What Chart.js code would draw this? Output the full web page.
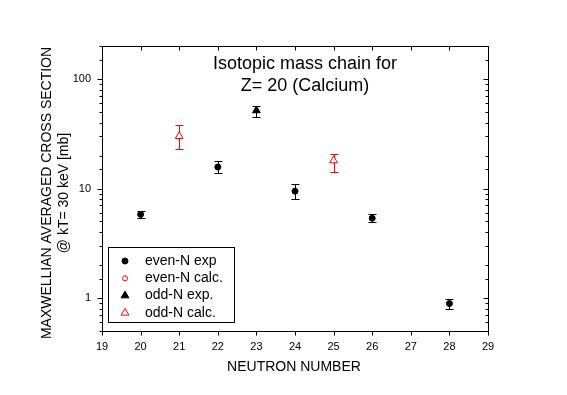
<!DOCTYPE html>
<html lang="en">
<head>
  <meta charset="UTF-8">
  <title>Isotopic mass chain for Z= 20 (Calcium)</title>
  <script src="https://cdn.jsdelivr.net/npm/chart.js"></script>
  <style>
    body { margin: 0; background: #fff; }
  </style>
</head>
<body>
  <canvas id="chart" width="567" height="395"></canvas>

  <script>
    // Data (N, value, lower and upper error bar ends, mb)
    const evenExpN = [20, 22, 24, 26, 28];
    const evenExpVal = [5.8, 15.7, 9.45, 5.35, 0.89];
    const evenExpLo = [5.4, 13.8, 8.1, 4.9, 0.79];
    const evenExpHi = [6.2, 17.7, 10.9, 5.85, 0.97];

    const evenCalcN = [];
    const evenCalcVal = [];

    const oddExpN = [23];
    const oddExpVal = [51.5];
    const oddExpLo = [45];
    const oddExpHi = [57];

    const oddCalcN = [21, 25];
    const oddCalcVal = [30, 18];
    const oddCalcLo = [23, 14];
    const oddCalcHi = [38, 20.6];

    const xTicks = [19, 20, 21, 22, 23, 24, 25, 26, 27, 28, 29];
    const yLabelled = [1, 10, 100];

    const titleLines = ['Isotopic mass chain for', 'Z= 20 (Calcium)'];
    const yTitleLines = ['MAXWELLIAN AVERAGED CROSS SECTION', '@ kT= 30 keV [mb]'];
    const xTitle = 'NEUTRON NUMBER';

    const FONT = 'Arial, "Liberation Sans", sans-serif';

    function pts(xs, ys) {
      return xs.map((x, i) => ({x: x, y: ys[i]}));
    }

    // error bars, drawn under the markers
    const errorBars = {
      id: 'errorBars',
      beforeDatasetsDraw(chart) {
        const ctx = chart.ctx;
        const xs = chart.scales.x, ys = chart.scales.y;
        chart.data.datasets.forEach(ds => {
          if (!ds.errLo) return;
          ctx.save();
          ctx.strokeStyle = ds.borderColor;
          ctx.lineWidth = 1;
          ds.data.forEach((p, i) => {
            const px = Math.round(xs.getPixelForValue(p.x)) + 0.5;
            const yLo = Math.round(ys.getPixelForValue(ds.errLo[i])) + 0.5;
            const yHi = Math.round(ys.getPixelForValue(ds.errHi[i])) + 0.5;
            ctx.beginPath();
            ctx.moveTo(px, yLo); ctx.lineTo(px, yHi);
            ctx.moveTo(px - 4, yLo); ctx.lineTo(px + 4, yLo);
            ctx.moveTo(px - 4, yHi); ctx.lineTo(px + 4, yHi);
            ctx.stroke();
          });
          ctx.restore();
        });
      }
    };

    // frame, tick marks, in-plot title, axis titles and legend box
    const decorations = {
      id: 'decorations',
      afterDraw(chart) {
        const ctx = chart.ctx;
        const a = chart.chartArea;
        const xs = chart.scales.x, ys = chart.scales.y;
        const L = Math.round(a.left) + 0.5, R = Math.round(a.right) + 0.5;
        const T = Math.round(a.top) + 0.5, B = Math.round(a.bottom) + 0.5;
        ctx.save();
        ctx.strokeStyle = '#000';
        ctx.lineWidth = 1;
        ctx.strokeRect(L, T, R - L, B - T);

        ctx.beginPath();
        xTicks.forEach(v => {
          const px = Math.round(xs.getPixelForValue(v)) + 0.5;
          ctx.moveTo(px, B); ctx.lineTo(px, B + 4);
          ctx.moveTo(px, T); ctx.lineTo(px, T + 4);
        });
        ys.ticks.forEach(t => {
          const major = yLabelled.includes(t.value);
          const len = major ? 5 : 3;
          const py = Math.round(ys.getPixelForValue(t.value)) + 0.5;
          ctx.moveTo(L, py); ctx.lineTo(L - len, py);
          ctx.moveTo(R, py); ctx.lineTo(R - len, py);
        });
        ctx.stroke();

        ctx.fillStyle = '#000';
        ctx.textAlign = 'center';
        ctx.textBaseline = 'middle';
        ctx.font = '18px ' + FONT;
        ctx.fillText(titleLines[0], 305, 64);
        ctx.fillText(titleLines[1], 305, 86);

        ctx.font = '14px ' + FONT;
        ctx.fillText(xTitle, 294, 367);
        ctx.save();
        ctx.translate(47, 193);
        ctx.rotate(-Math.PI / 2);
        ctx.fillText(yTitleLines[0], 0, 0);
        ctx.restore();
        ctx.save();
        ctx.translate(64, 193);
        ctx.rotate(-Math.PI / 2);
        ctx.fillText(yTitleLines[1], 0, 0);
        ctx.restore();

        // legend box and entries
        ctx.strokeRect(108.5, 247.5, 126, 75);
        ctx.textAlign = 'left';
        chart.data.datasets.forEach((ds, i) => {
          const cy = 261 + i * 17.3;
          ctx.save();
          ctx.fillStyle = ds.pointBackgroundColor;
          ctx.strokeStyle = ds.borderColor;
          ctx.lineWidth = 1;
          Chart.helpers.drawPoint(ctx, {
            pointStyle: ds.pointStyle,
            radius: ds.pointRadius,
            borderWidth: 1
          }, 125, cy);
          ctx.restore();
          ctx.fillStyle = '#000';
          ctx.fillText(ds.label, 145, cy);
        });
        ctx.restore();
      }
    };

    new Chart(document.getElementById('chart'), {
      type: 'scatter',
      data: {
        datasets: [
          {
            label: 'even-N exp',
            data: pts(evenExpN, evenExpVal),
            errLo: evenExpLo, errHi: evenExpHi,
            pointStyle: 'circle', pointRadius: 3,
            pointBackgroundColor: '#000', borderColor: '#000', borderWidth: 1
          },
          {
            label: 'even-N calc.',
            data: pts(evenCalcN, evenCalcVal),
            pointStyle: 'circle', pointRadius: 2.5,
            pointBackgroundColor: '#fff', borderColor: '#ff0000', borderWidth: 1
          },
          {
            label: 'odd-N exp.',
            data: pts(oddExpN, oddExpVal),
            errLo: oddExpLo, errHi: oddExpHi,
            pointStyle: 'triangle', pointRadius: 4.5,
            pointBackgroundColor: '#000', borderColor: '#000', borderWidth: 1
          },
          {
            label: 'odd-N calc.',
            data: pts(oddCalcN, oddCalcVal),
            errLo: oddCalcLo, errHi: oddCalcHi,
            pointStyle: 'triangle', pointRadius: 4.5,
            pointBackgroundColor: '#fff', borderColor: '#ff0000', borderWidth: 1
          }
        ]
      },
      options: {
        responsive: false,
        animation: false,
        devicePixelRatio: 1,
        layout: { padding: { left: 0, top: 46, right: 79, bottom: 0 } },
        plugins: {
          legend: { display: false },
          tooltip: { enabled: false }
        },
        scales: {
          x: {
            type: 'linear',
            min: 19, max: 29,
            afterFit(scale) { scale.height = 64; },
            afterBuildTicks(scale) { scale.ticks = xTicks.map(v => ({value: v})); },
            grid: { display: false, drawTicks: false },
            border: { display: false },
            ticks: { color: '#000', padding: 9, font: { family: FONT, size: 11 } }
          },
          y: {
            type: 'logarithmic',
            min: 0.5, max: 200,
            afterFit(scale) { scale.width = 102; },
            grid: { display: false, drawTicks: false },
            border: { display: false },
            ticks: {
              color: '#000', padding: 11, autoSkip: false,
              font: { family: FONT, size: 11 },
              callback: v => yLabelled.includes(v) ? String(v) : ''
            }
          }
        }
      },
      plugins: [errorBars, decorations]
    });
  </script>
</body>
</html>
